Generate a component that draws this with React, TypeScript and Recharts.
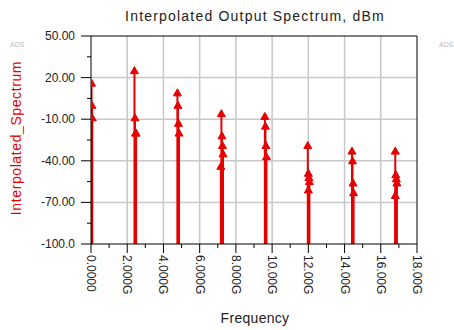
import { LineChart, Line, XAxis, YAxis, ReferenceLine } from 'recharts'

// Harmonic stems: [frequency GHz, dBm]
const stem0 = [[0.03, 16], [0.05, 0], [0.07, -9]]
const stem1 = [[2.4, 25], [2.43, -9], [2.46, -20], [2.49, -20]]
const stem2 = [[4.77, 9], [4.8, 0], [4.83, -13], [4.86, -20]]
const stem3 = [[7.17, -44], [7.2, -6], [7.23, -22], [7.26, -29], [7.29, -35]]
const stem4 = [[9.6, -8], [9.63, -15], [9.66, -29], [9.69, -37]]
const stem5 = [[11.97, -29], [12.0, -49], [12.03, -52], [12.06, -55], [12.0, -61]]
const stem6 = [[14.41, -33], [14.44, -40], [14.47, -56], [14.5, -63]]
const stem7 = [[16.8, -33], [16.83, -50], [16.86, -53], [16.89, -56], [16.8, -65]]
const stems = [stem0, stem1, stem2, stem3, stem4, stem5, stem6, stem7]

const xTicks = [0, 2, 4, 6, 8, 10, 12, 14, 16, 18]
const xTickLabels = ['0.0000', '2.000G', '4.000G', '6.000G', '8.000G', '10.00G', '12.00G', '14.00G', '16.00G', '18.00G']
const xMinorTicks = [1, 3, 5, 7, 9, 11, 13, 15, 17]
const yTicks = [-100, -70, -40, -10, 20, 50]
const yTickLabels = ['-100.0', '-70.00', '-40.00', '-10.00', '20.00', '50.00']
const yMinorTicks = [-85, -55, -25, 5, 35]

const RED = '#e60000'
const FONT = '"Liberation Sans", Arial, sans-serif'

// each point becomes a vertical segment from the floor to its value
const segments = stems.flat().map(([f, v]) => [
  { f, v: -100 },
  { f, v },
])

function XTick({ x, y, payload }: any) {
  const i = xTicks.indexOf(payload.value)
  const major = i >= 0
  return (
    <g>
      <line x1={x} x2={x} y1={y} y2={y + (major ? 9 : 4)} stroke="#000" />
      {major && (
        <text
          x={x}
          y={y + 11}
          transform={`rotate(90 ${x} ${y + 11})`}
          textAnchor="start"
          dominantBaseline="central"
          fontSize={12}
          fontFamily={FONT}
          fill="#222"
        >
          {xTickLabels[i]}
        </text>
      )}
    </g>
  )
}

function YTick({ x, y, payload }: any) {
  const i = yTicks.indexOf(payload.value)
  const major = i >= 0
  return (
    <g>
      <line x1={x - (major ? 10 : 4)} x2={x} y1={y} y2={y} stroke="#000" />
      {major && (
        <text
          x={x - 16}
          y={y}
          textAnchor="end"
          dominantBaseline="central"
          fontSize={12}
          fontFamily={FONT}
          fill="#222"
        >
          {yTickLabels[i]}
        </text>
      )}
    </g>
  )
}

function Marker({ cx, cy, index }: any) {
  if (index !== 1) return <g />
  return <path d={`M${cx},${cy - 4} L${cx + 4},${cy + 3} L${cx - 4},${cy + 3} Z`} fill={RED} stroke={RED} />
}

export default function App() {
  return (
    <div style={{ position: 'relative', width: 454, height: 330, background: '#fff' }}>
      <style>{'body{margin:0}'}</style>
      <div style={{ position: 'absolute', top: 8, left: 0, width: 510, textAlign: 'center', fontFamily: FONT, fontSize: 14, letterSpacing: 1.2, color: '#222' }}>
        Interpolated Output Spectrum, dBm
      </div>
      <div style={{ position: 'absolute', top: 310, left: 0, width: 510, textAlign: 'center', fontFamily: FONT, fontSize: 14, letterSpacing: 0.3, color: '#222' }}>
        Frequency
      </div>
      <div
        style={{
          position: 'absolute',
          left: 16,
          top: 138,
          transform: 'translate(-50%, -50%) rotate(-90deg)',
          whiteSpace: 'nowrap',
          fontFamily: FONT,
          fontSize: 14,
          letterSpacing: 0.6,
          color: RED,
        }}
      >
        Interpolated_Spectrum
      </div>
      <div style={{ position: 'absolute', left: 10, top: 41, fontFamily: FONT, fontSize: 7, color: '#bbb' }}>ADS</div>
      <div style={{ position: 'absolute', left: 439, top: 41, fontFamily: FONT, fontSize: 7, color: '#bbb' }}>ADS</div>
      <LineChart width={454} height={330} margin={{ top: 36, right: 37, bottom: 0, left: 0 }}>
        <XAxis
          type="number"
          dataKey="f"
          domain={[0, 18]}
          ticks={[...xTicks, ...xMinorTicks].sort((a, b) => a - b)}
          interval={0}
          height={86}
          tickSize={0}
          tickMargin={0}
          tick={<XTick />}
          axisLine={{ stroke: '#000' }}
          allowDataOverflow
        />
        <YAxis
          type="number"
          domain={[-100, 50]}
          ticks={[...yTicks, ...yMinorTicks].sort((a, b) => a - b)}
          interval={0}
          width={91}
          tickSize={0}
          tickMargin={0}
          tick={<YTick />}
          axisLine={{ stroke: '#000' }}
          allowDataOverflow
        />
        {xTicks.slice(1, -1).map((t) => (
          <ReferenceLine key={'gx' + t} x={t} stroke="#c8c8c8" strokeWidth={1.5} />
        ))}
        {yTicks.slice(1, -1).map((t) => (
          <ReferenceLine key={'gy' + t} y={t} stroke="#c8c8c8" strokeWidth={1.5} />
        ))}
        <ReferenceLine x={18} stroke="#000" />
        <ReferenceLine y={50} stroke="#000" />
        {segments.map((seg, i) => (
          <Line
            key={i}
            data={seg}
            dataKey="v"
            type="linear"
            stroke={RED}
            strokeWidth={2}
            dot={<Marker />}
            activeDot={false}
            isAnimationActive={false}
          />
        ))}
      </LineChart>
    </div>
  )
}
